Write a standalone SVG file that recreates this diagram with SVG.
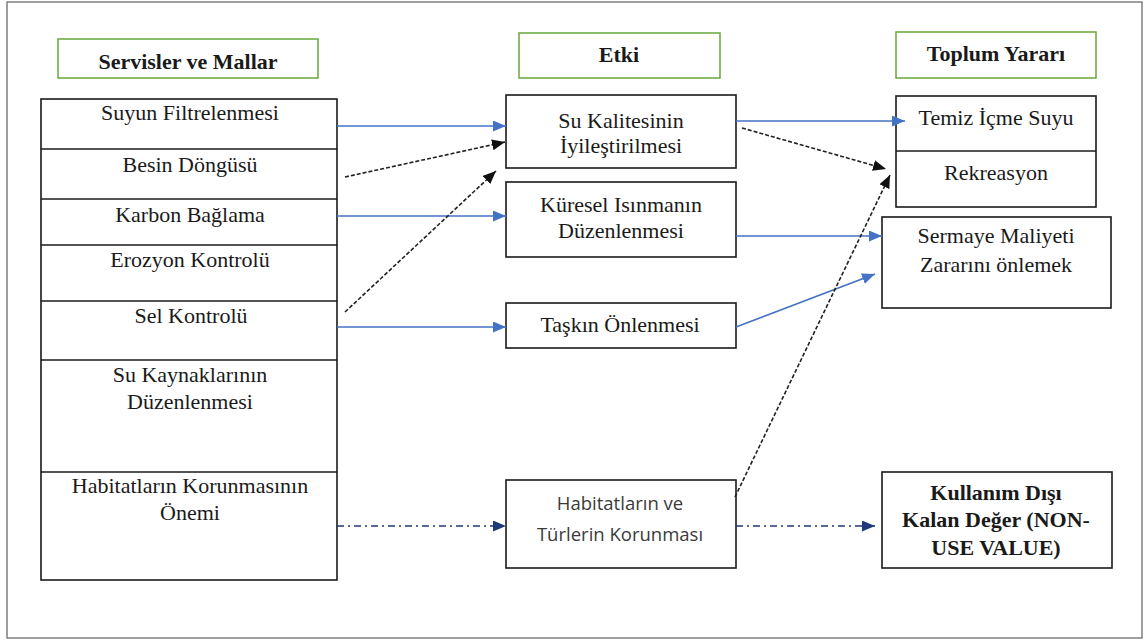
<svg xmlns="http://www.w3.org/2000/svg" width="1148" height="641" viewBox="0 0 1148 641">
  <style>
    .frame { fill: #ffffff; stroke: #7f7f7f; stroke-width: 1.5; }
    .head { fill: #ffffff; stroke: #70ad47; stroke-width: 1.6; }
    .box { fill: #ffffff; stroke: #1a1a1a; stroke-width: 1.6; }
    .div { stroke: #1a1a1a; stroke-width: 1.6; }
    .t { font-family: 'Liberation Serif', 'Times New Roman', 'DejaVu Serif', serif; font-size: 22px; fill: #1a1a1a; text-anchor: middle; }
    .b { font-weight: bold; }
    .s { font-family: 'Open Sans', 'Noto Sans', 'Liberation Sans', sans-serif; font-size: 18.5px; fill: #3a3a3a; text-anchor: middle; }
    .blue { stroke: #4472c4; stroke-width: 1.6; fill: none; marker-end: url(#ahBlue); }
    .dash { stroke: #222222; stroke-width: 1.6; fill: none; stroke-dasharray: 4 2; marker-end: url(#ahBlack); }
    .dashdot { stroke: #1f3a78; stroke-width: 1.6; fill: none; stroke-dasharray: 7 4 2 4; marker-end: url(#ahNavy); }
  </style>
  <defs>
    <marker id="ahBlue" markerUnits="userSpaceOnUse" markerWidth="14" markerHeight="12" refX="13" refY="5.5" orient="auto">
      <path d="M0,0 L13,5.5 L0,11 Z" fill="#4472c4"/>
    </marker>
    <marker id="ahBlack" markerUnits="userSpaceOnUse" markerWidth="14" markerHeight="12" refX="13" refY="5.5" orient="auto">
      <path d="M0,0 L13,5.5 L0,11 Z" fill="#111111"/>
    </marker>
    <marker id="ahNavy" markerUnits="userSpaceOnUse" markerWidth="14" markerHeight="12" refX="13" refY="5.5" orient="auto">
      <path d="M0,0 L13,5.5 L0,11 Z" fill="#1f3a78"/>
    </marker>
  </defs>

  <!-- outer frame -->
  <rect class="frame" x="7" y="2" width="1135" height="636"/>

  <!-- column headings -->
  <g id="head-services">
    <rect class="head" x="58" y="39" width="260" height="39"/>
    <text class="t b" x="188" y="69">Servisler ve Mallar</text>
  </g>
  <g id="head-impact">
    <rect class="head" x="519" y="33" width="201" height="45"/>
    <text class="t b" x="619" y="62">Etki</text>
  </g>
  <g id="head-benefit">
    <rect class="head" x="896" y="32" width="200" height="46"/>
    <text class="t b" x="996" y="61">Toplum Yararı</text>
  </g>

  <!-- services column -->
  <g id="services">
    <rect class="box" x="41" y="99" width="296" height="481"/>
    <line class="div" x1="41" y1="149" x2="337" y2="149"/>
    <line class="div" x1="41" y1="199" x2="337" y2="199"/>
    <line class="div" x1="41" y1="245" x2="337" y2="245"/>
    <line class="div" x1="41" y1="301" x2="337" y2="301"/>
    <line class="div" x1="41" y1="360" x2="337" y2="360"/>
    <line class="div" x1="41" y1="472" x2="337" y2="472"/>
  </g>
  <g id="svc-filtration"><text class="t" x="190" y="120">Suyun Filtrelenmesi</text></g>
  <g id="svc-nutrient"><text class="t" x="190" y="172">Besin Döngüsü</text></g>
  <g id="svc-carbon"><text class="t" x="190" y="222">Karbon Bağlama</text></g>
  <g id="svc-erosion"><text class="t" x="190" y="267">Erozyon Kontrolü</text></g>
  <g id="svc-flood"><text class="t" x="191" y="323">Sel Kontrolü</text></g>
  <g id="svc-water">
    <text class="t" x="190" y="382">Su Kaynaklarının</text>
    <text class="t" x="190" y="409">Düzenlenmesi</text>
  </g>
  <g id="svc-habitat">
    <text class="t" x="190" y="493">Habitatların Korunmasının</text>
    <text class="t" x="190" y="520">Önemi</text>
  </g>

  <!-- impact column -->
  <g id="imp-quality">
    <rect class="box" x="506" y="95" width="230" height="73"/>
    <text class="t" x="621" y="128">Su Kalitesinin</text>
    <text class="t" x="621" y="153">İyileştirilmesi</text>
  </g>
  <g id="imp-climate">
    <rect class="box" x="506" y="182" width="230" height="75"/>
    <text class="t" x="621" y="212">Küresel Isınmanın</text>
    <text class="t" x="621" y="238">Düzenlenmesi</text>
  </g>
  <g id="imp-flood">
    <rect class="box" x="506" y="303" width="230" height="45"/>
    <text class="t" x="620" y="332">Taşkın Önlenmesi</text>
  </g>
  <g id="imp-habitat">
    <rect class="box" x="506" y="480" width="230" height="88"/>
    <text class="s" x="620" y="510">Habitatların ve</text>
    <text class="s" x="620" y="541">Türlerin Korunması</text>
  </g>

  <!-- benefit column -->
  <g id="ben-water">
    <rect class="box" x="896" y="96" width="200" height="111"/>
    <line class="div" x1="896" y1="151" x2="1096" y2="151"/>
    <text class="t" x="996" y="125">Temiz İçme Suyu</text>
    <text class="t" x="996" y="180">Rekreasyon</text>
  </g>
  <g id="ben-capital">
    <rect class="box" x="882" y="217" width="229" height="91"/>
    <text class="t" x="996" y="243">Sermaye Maliyeti</text>
    <text class="t" x="996" y="272">Zararını önlemek</text>
  </g>
  <g id="ben-nonuse">
    <rect class="box" x="882" y="472" width="230" height="96"/>
    <text class="t b" x="996" y="500">Kullanım Dışı</text>
    <text class="t b" x="996" y="527">Kalan Değer (NON-</text>
    <text class="t b" x="996" y="555">USE VALUE)</text>
  </g>

  <!-- connectors -->
  <g id="connectors">
    <line class="blue" x1="337" y1="126" x2="506" y2="126"/>
    <line class="dash" x1="345" y1="177" x2="505" y2="142"/>
    <line class="blue" x1="337" y1="216" x2="506" y2="216"/>
    <line class="dash" x1="345" y1="312" x2="496" y2="171"/>
    <line class="blue" x1="337" y1="327" x2="506" y2="327"/>
    <line class="dashdot" x1="337" y1="526" x2="506" y2="526"/>

    <line class="blue" x1="736" y1="121" x2="905" y2="121"/>
    <line class="dash" x1="742" y1="128" x2="886" y2="169"/>
    <line class="blue" x1="736" y1="236" x2="882" y2="236"/>
    <line class="blue" x1="736" y1="327" x2="875" y2="274"/>
    <line class="dash" x1="735" y1="497" x2="890" y2="175"/>
    <line class="dashdot" x1="736" y1="526" x2="875" y2="526"/>
  </g>
</svg>
